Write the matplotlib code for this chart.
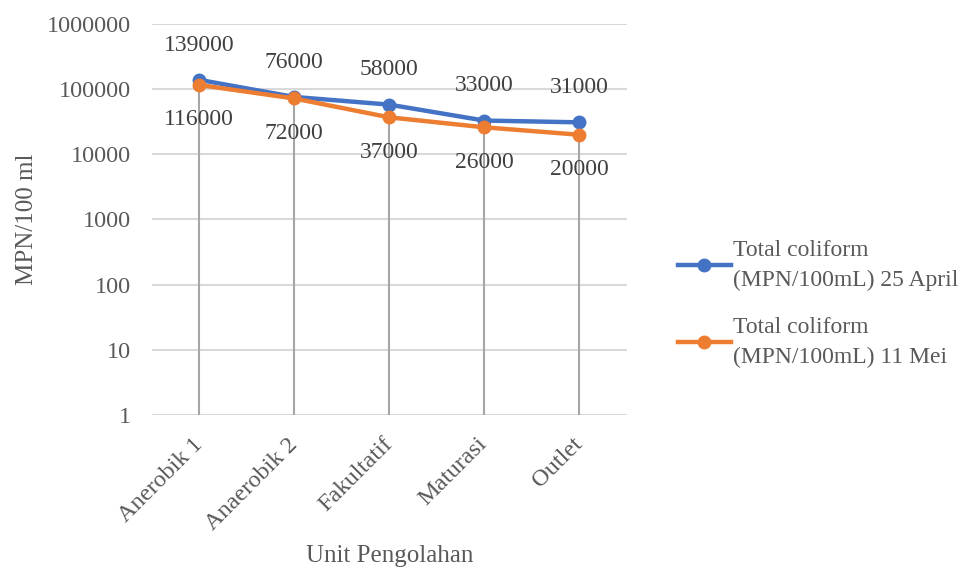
#!/usr/bin/env python3
import matplotlib
matplotlib.use("Agg")
import matplotlib.pyplot as plt

units = ["Anerobik 1", "Anaerobik 2", "Fakultatif", "Maturasi", "Outlet"]
april = [139000, 76000, 58000, 33000, 31000]
mei = [116000, 72000, 37000, 26000, 20000]
yticks = [1, 10, 100, 1000, 10000, 100000, 1000000]

plt.rcParams['font.family'] = ['Liberation Serif', 'DejaVu Serif']
txt = '#595959'
fs = 17.5

fig = plt.figure(figsize=(9.67, 5.73), dpi=100)
ax = fig.add_axes([0.157, 0.276, 0.491, 0.682])

x = list(range(len(units)))
# drop lines from each point down to the axis
top = [max(a, b) for a, b in zip(april, mei)]
ax.vlines(x, 1, top, color='#a6a6a6', lw=1.5, zorder=2)

ax.plot(x, april, color='#4472c4', lw=3.2, marker='o', ms=9,
        label='Total coliform\n(MPN/100mL) 25 April', zorder=4)
ax.plot(x, mei, color='#ed7d31', lw=3.2, marker='o', ms=9,
        label='Total coliform\n(MPN/100mL) 11 Mei', zorder=5)

for i, v in enumerate(april):
    ax.annotate(str(v), (i, v), xytext=(0, 25), textcoords='offset points',
                ha='center', va='center', fontsize=17, color='#404040')
for i, v in enumerate(mei):
    ax.annotate(str(v), (i, v), xytext=(0, -25), textcoords='offset points',
                ha='center', va='center', fontsize=17, color='#404040')

ax.set_yscale('log')
ax.set_ylim(1, 1000000)
ax.set_xlim(-0.5, len(units) - 0.5)
ax.set_yticks(yticks)
ax.set_yticklabels([str(t) for t in yticks])
ax.minorticks_off()
ax.yaxis.grid(True, color='#d9d9d9', lw=1.5)
ax.set_axisbelow(True)
for s in ax.spines.values():
    s.set_visible(False)
ax.tick_params(length=0, labelsize=fs, labelcolor=txt)
ax.tick_params(axis='y', pad=15)
ax.set_xticks(x)
ax.set_xticklabels(units, rotation=45, ha='right', va='center',
                   rotation_mode='anchor')
ax.tick_params(axis='x', pad=19)

ax.set_xlabel('Unit Pengolahan', fontsize=18, color=txt, labelpad=8)
ax.set_ylabel('MPN/100 ml', fontsize=18, color=txt, labelpad=6.5)

leg = fig.legend(loc='center left', bbox_to_anchor=(0.679, 0.47), frameon=False,
                 fontsize=17, labelcolor=txt, handlelength=2.25,
                 labelspacing=1.1, handletextpad=0.1)
for t in leg.get_texts():
    t.set_linespacing(1.55)

fig.savefig('out.png', dpi=100)
